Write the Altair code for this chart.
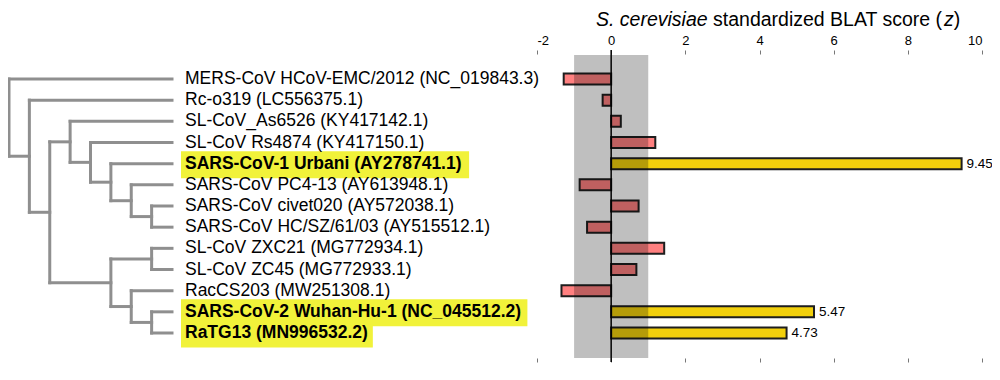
import altair as alt
import pandas as pd

# ---------------- data ----------------
names = [
    "MERS-CoV HCoV-EMC/2012 (NC_019843.3)",
    "Rc-o319 (LC556375.1)",
    "SL-CoV_As6526 (KY417142.1)",
    "SL-CoV Rs4874 (KY417150.1)",
    "SARS-CoV-1 Urbani (AY278741.1)",
    "SARS-CoV PC4-13 (AY613948.1)",
    "SARS-CoV civet020 (AY572038.1)",
    "SARS-CoV HC/SZ/61/03 (AY515512.1)",
    "SL-CoV ZXC21 (MG772934.1)",
    "SL-CoV ZC45 (MG772933.1)",
    "RacCS203 (MW251308.1)",
    "SARS-CoV-2 Wuhan-Hu-1 (NC_045512.2)",
    "RaTG13 (MN996532.2)",
]
scores = [-1.28, -0.23, 0.26, 1.19, 9.45, -0.85, 0.74, -0.65, 1.43, 0.68, -1.34, 5.47, 4.73]
highlighted = [False, False, False, False, True, False, False, False, False, False, False, True, True]
# cladogram topology (leaf indices)
tree = (0, (1, ((2, (3, (4, (5, (6, 7))))), ((8, 9), (10, (11, 12))))))
band_lo, band_hi = -1, 1
tick_values = [-2, 0, 2, 4, 6, 8, 10]
title_parts = [("S. cerevisiae", "italic"), (" standardized BLAT score (", "normal"),
               ("z", "italic"), (")", "normal")]

FONT = "Liberation Sans"
LABEL_SIZE = 17.5
TITLE_SIZE = 19.5

# Arial / Liberation Sans advance widths (1/1000 em)
W_REG = {"S": 667, ".": 278, " ": 278, "c": 500, "e": 556, "r": 333, "v": 500, "i": 222,
         "s": 500, "a": 556, "t": 278, "n": 556, "d": 556, "z": 500, "B": 667, "L": 556,
         "A": 667, "T": 611, "o": 556, "(": 333, ")": 333}
W_BOLD = {"S": 667, "A": 722, "R": 722, "-": 333, "C": 722, "o": 611, "V": 667, " ": 278,
          "U": 722, "r": 389, "b": 611, "a": 556, "n": 611, "i": 278, "(": 333, ")": 333,
          "Y": 667, ".": 278, "W": 944, "u": 611, "h": 611, "H": 722, "N": 722, "_": 556,
          "T": 611, "G": 778, "M": 833}
for dgt in "0123456789":
    W_BOLD[dgt] = 556


def text_width(s, table, size):
    return sum(table.get(ch, 556) for ch in s) * size / 1000.0


# ---------------- tree layout (rectangular cladogram) ----------------
heights = {}


def heights_of(node):
    if isinstance(node, int):
        return 0
    h = max(heights_of(c) for c in node) + 1
    heights[id(node)] = h
    return h


total_h = heights_of(tree)


def ypos(node):
    if isinstance(node, int):
        return float(node)
    ys = [ypos(c) for c in node]
    return sum(ys) / len(ys)


def xpos(node):
    return total_h if isinstance(node, int) else total_h - heights[id(node)]


segs = []


def collect(node):
    if isinstance(node, int):
        return
    xn = xpos(node)
    ys = [ypos(c) for c in node]
    segs.append(dict(x=xn, x2=xn, y=min(ys), y2=max(ys)))
    for c in node:
        segs.append(dict(x=xn, x2=xpos(c), y=ypos(c), y2=ypos(c)))
        collect(c)


collect(tree)
tree_df = pd.DataFrame(segs)

rows = pd.DataFrame({
    "row": list(range(len(names))),
    "name": names,
    "score": scores,
    "hl": highlighted,
})
rows["kind"] = ["hi" if h else "lo" for h in highlighted]
rows["leaf"] = total_h
rows["label"] = [f"{s:.2f}" for s in scores]
hl_df = rows[rows.hl].copy()
lo_df = rows[~rows.hl].copy()
hl_df["hx"] = 173
hl_df["hx2"] = [173 + 4 + text_width(n, W_BOLD, LABEL_SIZE) + 5 for n in hl_df.name]

# ---------------- scales ----------------
ROW0 = 20
yscale = alt.Scale(domain=[0, len(names) - 1], range=[ROW0, ROW0 + 22 * (len(names) - 1)])
tree_x = alt.Scale(domain=[0, total_h], range=[1, 164])
bar_x = alt.Scale(domain=[-2, 10], range=[529, 974], nice=False, zero=False)
PLOT_H = 304

# ---------------- layers ----------------
tree_layer = alt.Chart(tree_df).mark_rule(color="#8f8f8f", strokeWidth=3, strokeCap="square").encode(
    x=alt.X("x:Q", scale=tree_x, axis=None),
    x2="x2:Q",
    y=alt.Y("y:Q", scale=yscale, axis=None),
    y2="y2:Q",
)

hl_layer = alt.Chart(hl_df).mark_bar(orient="horizontal", size=27, color="#f1f23a", yOffset=1).encode(
    x=alt.X("hx:Q", scale=None, axis=None),
    x2="hx2:Q",
    y=alt.Y("row:Q", scale=yscale, axis=None),
)

label_lo = alt.Chart(lo_df).mark_text(
    align="left", baseline="middle", dx=13, font=FONT, fontSize=LABEL_SIZE, color="black"
).encode(
    x=alt.X("leaf:Q", scale=tree_x, axis=None),
    y=alt.Y("row:Q", scale=yscale, axis=None),
    text="name:N",
)
label_hi = alt.Chart(hl_df).mark_text(
    align="left", baseline="middle", dx=13, font=FONT, fontSize=LABEL_SIZE, color="black",
    fontWeight="bold"
).encode(
    x=alt.X("leaf:Q", scale=tree_x, axis=None),
    y=alt.Y("row:Q", scale=yscale, axis=None),
    text="name:N",
)

top_axis = alt.Axis(orient="top", values=tick_values, domain=False, grid=False, tickSize=4,
                    tickColor="#777", labelFont=FONT, labelFontSize=13, labelColor="black",
                    labelPadding=3, labelExpr="'' + datum.value", title=None)
bars = alt.Chart(rows).mark_bar(orient="horizontal", size=11, stroke="#1e1e1e", strokeWidth=2).encode(
    x=alt.X("score:Q", scale=bar_x, axis=top_axis),
    y=alt.Y("row:Q", scale=yscale, axis=None),
    color=alt.Color("kind:N", scale=alt.Scale(domain=["lo", "hi"], range=["#ff8080", "#f2d00c"]),
                    legend=None),
)

bottom_axis = alt.Axis(orient="bottom", values=tick_values, domain=False, grid=False, tickSize=4,
                       tickColor="#777", labels=False, title=None)
band = alt.Chart(pd.DataFrame({"lo": [band_lo], "hi": [band_hi]})).mark_rect(
    color="black", opacity=0.25
).encode(
    x=alt.X("lo:Q", scale=bar_x, axis=bottom_axis),
    x2="hi:Q",
    y=alt.value(1),
    y2=alt.value(PLOT_H),
)

zero_rule = alt.Chart(pd.DataFrame({"z": [0]})).mark_rule(color="black", strokeWidth=1.5).encode(
    x=alt.X("z:Q", scale=bar_x, axis=None),
    y=alt.value(-4),
    y2=alt.value(PLOT_H + 4),
)

value_text = alt.Chart(hl_df).mark_text(
    align="left", baseline="middle", dx=5, font=FONT, fontSize=13.5, color="black"
).encode(
    x=alt.X("score:Q", scale=bar_x, axis=None),
    y=alt.Y("row:Q", scale=yscale, axis=None),
    text="label:N",
)

title_layers = []
tx = 588
for part, style in title_parts:
    lead = len(part) - len(part.lstrip(" "))
    x_draw = tx + text_width(part[:lead], W_REG, TITLE_SIZE)
    title_layers.append(
        alt.Chart(pd.DataFrame({"t": [part.strip(" ")]})).mark_text(
            align="left", baseline="alphabetic", font=FONT, fontSize=TITLE_SIZE,
            fontStyle=style, color="black"
        ).encode(x=alt.value(x_draw), y=alt.value(-28), text="t:N")
    )
    tx += text_width(part, W_REG, TITLE_SIZE)

chart = alt.layer(
    tree_layer, hl_layer, label_lo, label_hi, bars, band, zero_rule, value_text, *title_layers
).resolve_scale(x="independent").properties(
    width=984, height=PLOT_H,
    padding={"left": 0, "top": 46, "right": 0, "bottom": 14},
    autosize=alt.AutoSizeParams(type="none"),
).configure_view(stroke=None)

chart.save("out.html", embed_options={"renderer": "svg", "actions": False})
